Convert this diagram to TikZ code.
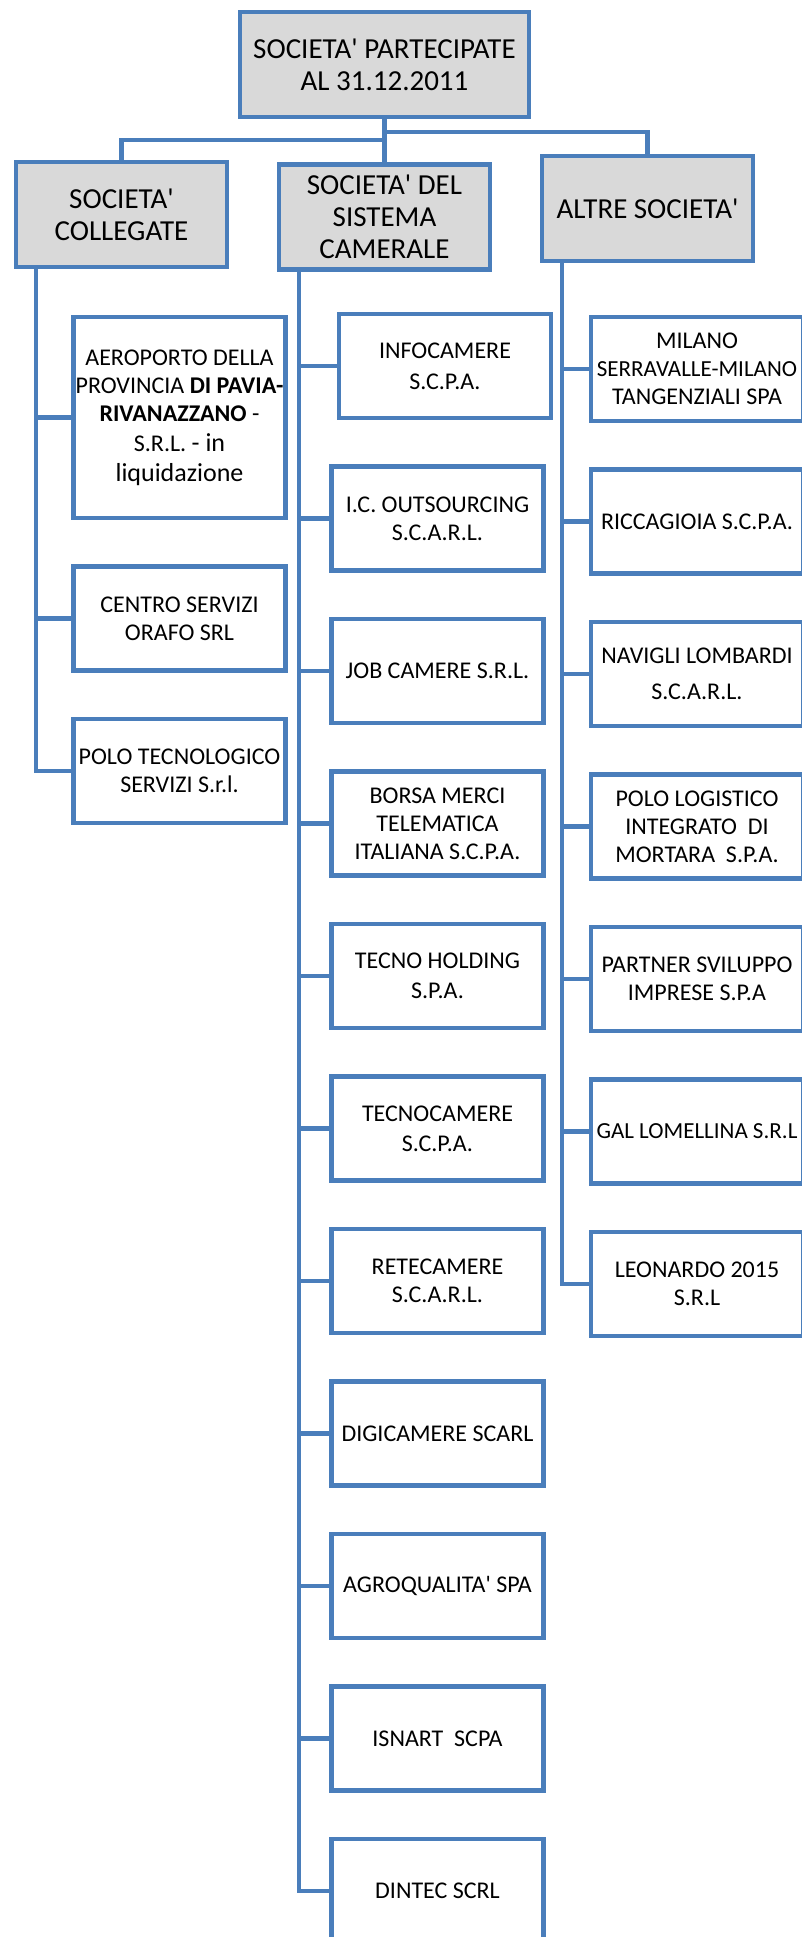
\documentclass[tikz,border=0pt]{standalone}
\usepackage{fontspec}
\setmainfont{Carlito}
\usepackage{tikz}
\usetikzlibrary{positioning}
\definecolor{chartblue}{RGB}{74,126,187}
\definecolor{chartgray}{RGB}{217,217,217}
\newcommand{\apo}{\textquotesingle}

\begin{document}
\begin{tikzpicture}[
    x=1pt, y=1pt,
    node distance=44pt,
    group/.style={rectangle, draw=chartblue, fill=chartgray, line width=4.5pt, minimum width=211pt, minimum height=105pt, inner sep=0pt, align=center, font=\fontsize{29}{32}\selectfont},
    member/.style={rectangle, draw=chartblue, fill=white, line width=4.5pt, minimum width=212pt, minimum height=104pt, inner sep=0pt, align=center, font=\fontsize{24}{28}\selectfont},
    link/.style={draw=chartblue, line width=4.5pt}
]
    \useasboundingbox (0,0) rectangle (802,-1937);
    \clip (0,0) rectangle (802,-1937);

    % top level
    \node[group, minimum width=289pt] (root) at (384.5,-64.5) {SOCIETA\apo{} PARTECIPATE\\AL 31.12.2011};
    \node[group] (collegate) at (121.5,-214.5) {SOCIETA\apo\\COLLEGATE};
    \node[group] (sistema) at (384.5,-217) {SOCIETA\apo{} DEL\\SISTEMA\\CAMERALE};
    \node[group] (altre) at (647.5,-208.5) {ALTRE SOCIETA\apo};

    % collegate
    \node[member, minimum height=201pt] (aero) at (179.5,-417.5) {AEROPORTO DELLA\\PROVINCIA \textbf{DI PAVIA-}\\\textbf{RIVANAZZANO} -\\[2pt]S.R.L. {\fontsize{26}{30}\selectfont - in}\\[2pt]{\fontsize{26}{30}\selectfont liquidazione}};
    \node[member, below=of aero] (centro) {CENTRO SERVIZI\\ORAFO SRL};
    \node[member, below=of centro] (polotec) {POLO TECNOLOGICO\\SERVIZI S.r.l.};

    % sistema camerale
    \node[member] (infocamere) at (445,-366) {INFOCAMERE\\[3pt]S.C.P.A.};
    \node[member, below=of infocamere, xshift=-7.5pt] (icout) {I.C. OUTSOURCING\\S.C.A.R.L.};
    \node[member, below=of icout] (jobcamere) {JOB CAMERE S.R.L.};
    \node[member, below=of jobcamere] (borsa) {BORSA MERCI\\TELEMATICA\\ITALIANA S.C.P.A.};
    \node[member, below=of borsa] (tecnohold) {TECNO HOLDING\\[2pt]S.P.A.};
    \node[member, below=of tecnohold] (tecnocam) {TECNOCAMERE\\[2pt]S.C.P.A.};
    \node[member, below=of tecnocam] (retecam) {RETECAMERE\\S.C.A.R.L.};
    \node[member, below=of retecam] (digicam) {DIGICAMERE SCARL};
    \node[member, below=of digicam] (agroq) {AGROQUALITA\apo{} SPA};
    \node[member, below=of agroq] (isnart) {ISNART\ \ SCPA};
    \node[member, below=of isnart] (dintec) {DINTEC SCRL};

    % altre societa'
    \node[member] (milano) at (697,-369) {MILANO\\{\fontsize{23}{26}\selectfont SERRAVALLE-MILANO}\\TANGENZIALI SPA};
    \node[member, below=of milano] (riccagioia) {RICCAGIOIA S.C.P.A.};
    \node[member, below=of riccagioia] (navigli) {NAVIGLI LOMBARDI\\[8pt]S.C.A.R.L.};
    \node[member, below=of navigli] (pololog) {POLO LOGISTICO\\INTEGRATO\ \ DI\\MORTARA\ \ S.P.A.};
    \node[member, below=of pololog] (partner) {PARTNER SVILUPPO\\IMPRESE S.P.A};
    \node[member, below=of partner] (gal) {\fontsize{23}{26}\selectfont GAL LOMELLINA S.R.L};
    \node[member, below=of gal] (leonardo) {LEONARDO 2015\\S.R.L};

    % connectors
    \coordinate (forkL) at (384.5,-140);
    \coordinate (forkR) at (384.5,-132);
    \coordinate (trunkL) at (36,0);
    \coordinate (trunkM) at (299,0);
    \coordinate (trunkR) at (562,0);

    \draw[link] (root.south) -- (sistema.north);
    \draw[link] (forkL) -| (collegate.north);
    \draw[link] (forkR) -| (altre.north);

    \draw[link] (collegate.south -| trunkL) |- (polotec.west);
    \draw[link] (trunkL |- aero.west) -- (aero.west);
    \draw[link] (trunkL |- centro.west) -- (centro.west);

    \draw[link] (sistema.south -| trunkM) |- (dintec.west);
    \draw[link] (trunkM |- infocamere.west) -- (infocamere.west);
    \draw[link] (trunkM |- icout.west) -- (icout.west);
    \draw[link] (trunkM |- jobcamere.west) -- (jobcamere.west);
    \draw[link] (trunkM |- borsa.west) -- (borsa.west);
    \draw[link] (trunkM |- tecnohold.west) -- (tecnohold.west);
    \draw[link] (trunkM |- tecnocam.west) -- (tecnocam.west);
    \draw[link] (trunkM |- retecam.west) -- (retecam.west);
    \draw[link] (trunkM |- digicam.west) -- (digicam.west);
    \draw[link] (trunkM |- agroq.west) -- (agroq.west);
    \draw[link] (trunkM |- isnart.west) -- (isnart.west);

    \draw[link] (altre.south -| trunkR) |- (leonardo.west);
    \draw[link] (trunkR |- milano.west) -- (milano.west);
    \draw[link] (trunkR |- riccagioia.west) -- (riccagioia.west);
    \draw[link] (trunkR |- navigli.west) -- (navigli.west);
    \draw[link] (trunkR |- pololog.west) -- (pololog.west);
    \draw[link] (trunkR |- partner.west) -- (partner.west);
    \draw[link] (trunkR |- gal.west) -- (gal.west);
\end{tikzpicture}
\end{document}
